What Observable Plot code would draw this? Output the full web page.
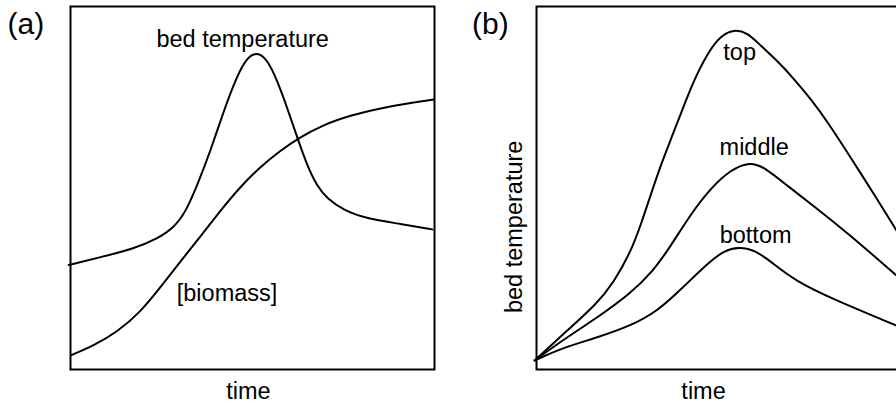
<!DOCTYPE html>
<html><head><meta charset="utf-8">
<script src="https://cdn.jsdelivr.net/npm/d3@7"></script>
<script src="https://cdn.jsdelivr.net/npm/@observablehq/plot@0.6"></script>
<style>
html,body{margin:0;padding:0;background:#fff;overflow:hidden;width:896px;height:403px;}
#wrap{position:relative;width:896px;height:403px;overflow:hidden;}
#a,#b{position:absolute;top:0;height:403px;}
#a{left:0;width:448px;} #b{left:448px;width:460px;}
#a svg,#b svg{max-width:none !important;}
</style></head><body><div id="wrap"><div id="a"></div><div id="b"></div></div>
<script>
// Panel (a): schematic curves, normalized units (time 0-100, value 0-100)
const aBedTime = [-0.5, 8.2, 17.4, 23.8, 28.4, 31.6, 34.8, 38.5, 42.1, 45.8, 48.5, 51.1, 54.0, 56.8, 59.5, 62.3, 65.0, 67.8, 70.5, 75.1, 81.5, 90.7, 99.4];
const aBedTemp = [28.8, 30.9, 33.3, 36.0, 39.1, 43.3, 50.7, 60.3, 71.3, 81.0, 85.9, 87.5, 85.6, 79.6, 72.2, 63.9, 56.2, 50.4, 47.1, 43.8, 41.5, 40.1, 38.6];
const aBioTime = [0.3, 6.4, 12.8, 19.2, 24.7, 30.2, 35.7, 41.2, 46.7, 52.2, 57.7, 62.3, 69.6, 76.9, 86.1, 99.8];
const aBiomass = [4.0, 6.6, 10.3, 15.8, 22.6, 29.8, 36.6, 43.8, 50.4, 55.9, 60.3, 63.6, 67.5, 70.0, 72.3, 74.4];

// Panel (b): bed temperature at three heights
const bTopTime = [-0.5, 7.5, 16.7, 21.2, 25.8, 28.6, 31.3, 34.1, 36.8, 39.6, 43.2, 46.9, 50.5, 54.2, 57.9, 61.5, 66.1, 70.7, 75.3, 80.2, 86.3, 93.1, 98.9];
const bTop = [2.5, 9.9, 18.2, 24.0, 32.2, 39.7, 47.9, 56.2, 63.1, 70.4, 79.6, 87.0, 91.9, 93.7, 92.8, 89.3, 85.1, 80.1, 74.6, 67.9, 58.4, 47.7, 38.3];
const bMidTime = [-0.5, 7.5, 16.7, 25.8, 32.2, 36.8, 42.3, 47.8, 53.3, 58.7, 62.8, 69.2, 76.6, 85.7, 98.9];
const bMid = [2.5, 8.3, 14.3, 20.9, 27.3, 33.9, 42.7, 49.9, 55.0, 57.3, 55.6, 50.4, 44.7, 37.4, 25.9];
const bBotTime = [-0.5, 7.5, 16.7, 25.8, 33.2, 39.9, 47.3, 51.6, 55.5, 60.1, 65.6, 71.1, 81.1, 98.9];
const bBot = [2.5, 6.1, 8.8, 12.0, 16.0, 22.3, 29.5, 32.8, 33.8, 33.0, 28.7, 24.5, 19.5, 12.1];

// Labels
const aLabels = [
  {text: "bed temperature", x: 47.3, y: 90.8},
  {text: "[biomass]", x: 43.0, y: 21.0},
  {text: "time", x: 48.9, y: -5.95}
];
const bLabels = [
  {text: "top", x: 55.8, y: 87.4},
  {text: "middle", x: 59.8, y: 61.3},
  {text: "bottom", x: 60.2, y: 37.0},
  {text: "time", x: 45.9, y: -5.95}
];
const panelTags = ["(a)", "(b)"];

const FONT = "'Liberation Sans', Arial, Helvetica, sans-serif";
const FS = 23.5;
const zip = (xs, ys) => xs.map((x, i) => ({x, y: ys[i]}));
const lineOpts = {x: "x", y: "y", curve: "basis", stroke: "#000", strokeWidth: 2};

const common = {
  height: 403,
  marginTop: 6,
  marginBottom: 34,
  x: {domain: [0, 100], axis: null},
  y: {domain: [0, 100], axis: null},
  style: {fontFamily: FONT, background: "white", overflow: "visible", color: "#000", maxWidth: "none"}
};

const plotA = Plot.plot({
  ...common,
  width: 448,
  marginLeft: 70,
  marginRight: 14,
  marks: [
    Plot.frame({stroke: "#000", strokeWidth: 2}),
    Plot.line(zip(aBedTime, aBedTemp), lineOpts),
    Plot.line(zip(aBioTime, aBiomass), lineOpts),
    Plot.text(aLabels, {x: "x", y: "y", text: "text", fontSize: FS, fill: "#000"}),
    Plot.text([panelTags[0]], {x: -17.3, y: 95.2, text: d => d, textAnchor: "start", fontSize: 30, fill: "#000"})
  ]
});
document.getElementById("a").appendChild(plotA);

const plotB = Plot.plot({
  ...common,
  width: 460,
  marginLeft: 88,
  marginRight: 8,
  marks: [
    Plot.frame({stroke: "#000", strokeWidth: 2}),
    Plot.line(zip(bTopTime, bTop), lineOpts),
    Plot.line(zip(bMidTime, bMid), lineOpts),
    Plot.line(zip(bBotTime, bBot), lineOpts),
    Plot.text(bLabels, {x: "x", y: "y", text: "text", fontSize: FS, fill: "#000"}),
    Plot.text(["bed temperature"], {x: -6.15, y: 39.3, text: d => d, rotate: -90, fontSize: FS, fill: "#000"}),
    Plot.text([panelTags[1]], {x: -17.7, y: 95.2, text: d => d, textAnchor: "start", fontSize: 30, fill: "#000"})
  ]
});
document.getElementById("b").appendChild(plotB);
</script></body></html>
